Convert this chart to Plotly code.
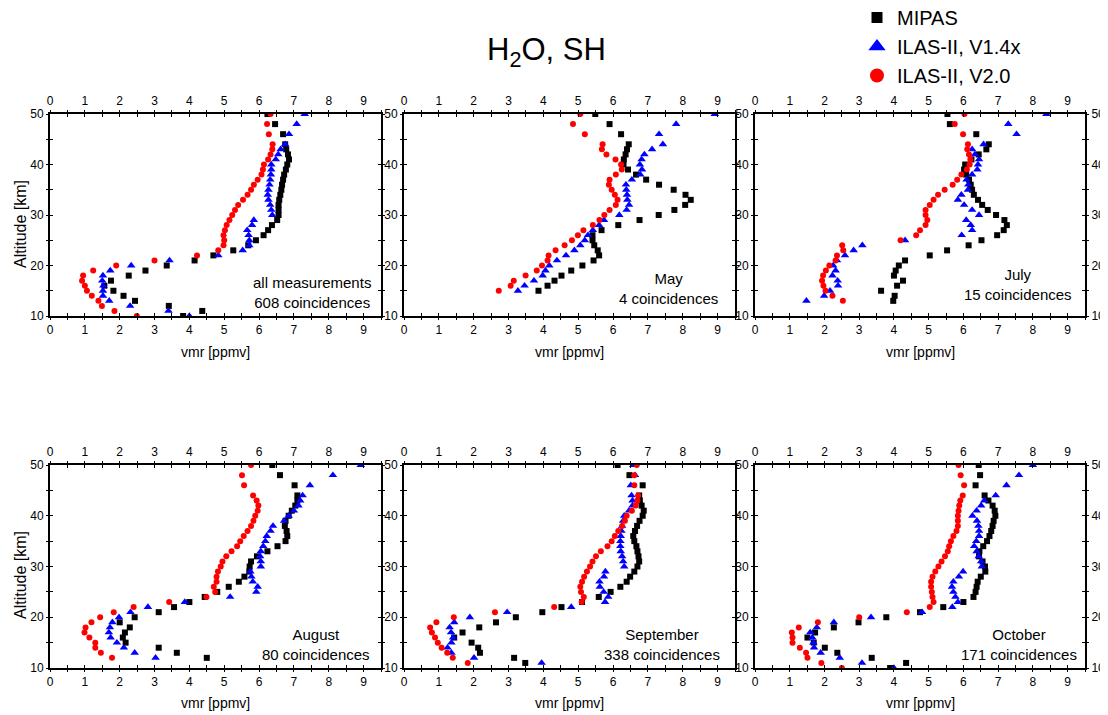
import plotly.graph_objects as go

# ---------------- data ----------------
ALT_P1 = [50, 48, 46, 44, 43, 42, 41, 40, 39, 38, 37, 36, 35, 34, 33, 32, 31, 30, 29, 28, 27, 26, 25,
          24, 23, 22, 21, 20, 19, 18, 17, 16, 15, 14, 13, 12, 11, 10]
ALT_MAY = [50, 48, 46, 44, 43, 42, 41, 40, 39, 38, 37, 36, 35, 34, 33, 32, 31, 30, 29, 28, 27, 26, 25,
           24, 23, 22, 21, 20, 19, 18, 17, 16, 15]
ALT_JUL = [50, 48, 46, 44, 43, 42, 41, 40, 39, 38, 37, 36, 35, 34, 33, 32, 31, 30, 29, 28, 27, 26, 25,
           24, 23, 22, 21, 20, 19, 18, 17, 16, 15, 14, 13]
ALT_AUG = [50, 48, 46, 44, 43, 42, 41, 40, 39, 38, 37, 36, 35, 34, 33, 32, 31, 30, 29, 28, 27, 26, 25,
           24, 23, 22, 21, 20, 19, 18, 17, 16, 15, 14, 13, 12]
ALT_SEP = [50, 48, 46, 44, 43, 42, 41, 40, 39, 38, 37, 36, 35, 34, 33, 32, 31, 30, 29, 28, 27, 26, 25,
           24, 23, 22, 21, 20, 19, 18, 17, 16, 15, 14, 13, 12, 11]
ALT_OCT = [50, 48, 46, 44, 43, 42, 41, 40, 39, 38, 37, 36, 35, 34, 33, 32, 31, 30, 29, 28, 27, 26, 25,
           24, 23, 22, 21, 20, 19, 18, 17, 16, 15, 14, 13, 12, 11, 10]

ALL_MIPAS = [6.24, 6.46, 6.69, 6.75, 6.78, 6.83, 6.86, 6.81, 6.77, 6.72, 6.69, 6.66, 6.64,
             6.61, 6.58, 6.56, 6.56, 6.56, 6.52, 6.37, 6.26, 6.13, 5.91,
             5.69, 5.26, 4.69, 4.15, 3.35, 2.74, 2.26, 1.75, 1.56, 1.82,
             2.11, 2.44, 3.41, 4.37, 3.82]
ALL_V14 = [7.31, 7.08, 6.86, 6.75, 6.62, 6.55, 6.48, 6.35, 6.35, 6.34, 6.32, 6.30, 6.27,
           6.25, 6.27, 6.32, 6.35, 6.38, 5.85, 5.80, 5.66, 5.70, 5.72,
           5.72, 5.53, 4.83, 3.43, 2.33, 1.73, 1.52, 1.50, 1.53, 1.52,
           1.52, 1.70, 2.30, 3.40, 4.00]
ALL_V20 = [6.33, 6.23, 6.28, 6.39, 6.38, 6.33, 6.26, 6.14, 6.11, 6.07, 5.96, 5.85, 5.77,
           5.67, 5.54, 5.40, 5.31, 5.23, 5.15, 5.07, 5.02, 4.98, 5.00,
           4.98, 4.83, 4.22, 3.00, 1.90, 1.24, 0.95, 0.92, 1.00, 1.06,
           1.20, 1.39, 1.49, 1.85, 2.49]

MAY_MIPAS = [5.49, 5.90, 6.23, 6.45, 6.40, 6.36, 6.31, 6.30, 6.43, 6.66, 6.95, 7.32, 7.74,
             8.08, 8.23, 8.07, 7.76, 7.31, 6.76, 6.15, 5.67, 5.41, 5.41,
             5.46, 5.56, 5.60, 5.44, 5.12, 4.80, 4.52, 4.32, 4.12, 3.86]
MAY_V14 = [8.92, 7.81, 7.32, 7.43, 7.12, 6.90, 6.82, 6.77, 6.83, 6.78, 6.54, 6.37, 6.38,
           6.40, 6.41, 6.46, 6.39, 6.18, 5.74, 5.60, 5.42, 5.28, 5.19,
           5.06, 4.89, 4.65, 4.39, 4.17, 4.06, 3.98, 3.73, 3.46, 3.27]
MAY_V20 = [5.06, 4.85, 5.19, 5.70, 5.68, 5.81, 6.07, 6.23, 6.25, 6.08, 5.90, 5.88, 5.96,
           6.05, 6.13, 6.08, 5.90, 5.75, 5.61, 5.42, 5.15, 4.99, 4.82,
           4.61, 4.35, 4.15, 4.12, 3.96, 3.81, 3.49, 3.15, 3.06, 2.72]

JUL_MIPAS = [5.54, 5.61, 6.37, 6.73, 6.66, 6.44, 6.23, 6.05, 6.02, 6.08, 6.16, 6.21, 6.25,
             6.30, 6.42, 6.54, 6.70, 6.94, 7.18, 7.25, 7.16, 6.97, 6.52,
             6.15, 5.53, 5.03, 4.32, 4.14, 4.05, 4.00, 4.26, 4.09, 3.63,
             4.02, 3.98]
JUL_V14 = [8.39, 7.29, 7.53, 6.58, 6.25, 6.33, 6.45, 6.42, 6.40, 6.25, 6.09, 6.14, 6.13,
           5.94, 5.84, 6.02, 6.25, 6.45, 6.08, 6.21, 6.25, 5.95, 4.32,
           3.09, 2.84, 2.59, 2.36, 2.25, 2.32, 2.23, 2.38, 2.39, 2.16,
           1.99, 1.48]
JUL_V20 = [6.03, 5.75, 5.99, 6.13, 6.11, 6.16, 6.20, 6.18, 6.10, 5.94, 5.82, 5.69, 5.46,
           5.27, 5.14, 5.03, 4.91, 4.91, 4.96, 4.91, 4.75, 4.64, 4.19,
           2.51, 2.54, 2.36, 2.32, 2.14, 2.04, 1.96, 1.93, 1.97, 2.03,
           2.23, 2.53]

AUG_MIPAS = [6.38, 6.60, 7.02, 7.10, 7.10, 7.04, 6.94, 6.85, 6.76, 6.74, 6.79, 6.81, 6.76,
             6.53, 6.24, 5.94, 5.77, 5.73, 5.72, 5.58, 5.42, 5.13, 4.80,
             4.44, 4.00, 3.56, 3.12, 2.43, 2.00, 2.29, 2.15, 2.09, 2.17,
             3.12, 3.64, 4.50]
AUG_V14 = [8.92, 8.12, 7.46, 7.25, 7.18, 7.13, 7.00, 6.85, 6.72, 6.40, 6.33, 6.22, 6.18,
           6.12, 6.05, 6.03, 6.05, 6.05, 5.75, 5.78, 5.82, 5.96, 5.92,
           5.17, 3.87, 2.81, 2.31, 1.98, 1.79, 1.72, 1.69, 1.74, 1.92,
           2.12, 2.43, 3.03]
AUG_V20 = [5.77, 5.51, 5.57, 5.83, 5.93, 5.98, 5.96, 5.89, 5.84, 5.77, 5.67, 5.56, 5.46,
           5.37, 5.21, 5.06, 4.95, 4.90, 4.82, 4.78, 4.78, 4.70, 4.74,
           4.49, 3.42, 2.40, 1.83, 1.44, 1.19, 1.02, 0.99, 1.13, 1.30,
           1.30, 1.46, 1.78]

SEP_MIPAS = [6.13, 6.47, 6.85, 6.75, 6.77, 6.82, 6.88, 6.85, 6.76, 6.69, 6.63, 6.58, 6.61,
             6.67, 6.70, 6.73, 6.75, 6.70, 6.61, 6.49, 6.39, 6.21, 5.93,
             5.59, 5.11, 4.52, 3.97, 3.21, 2.64, 2.16, 1.68, 1.44, 1.94,
             2.13, 2.18, 3.16, 3.48]
SEP_V14 = [6.58, 6.63, 6.51, 6.53, 6.56, 6.56, 6.46, 6.32, 6.29, 6.26, 6.24, 6.22, 6.21,
           6.21, 6.22, 6.26, 6.29, 6.32, 5.78, 5.74, 5.61, 5.62, 5.73,
           5.86, 5.77, 4.80, 2.96, 1.89, 1.44, 1.31, 1.35, 1.41, 1.36,
           1.25, 1.36, 2.01, 3.95]
SEP_V20 = [6.68, 6.61, 6.61, 6.72, 6.70, 6.65, 6.54, 6.39, 6.34, 6.26, 6.15, 6.05, 5.96,
           5.84, 5.65, 5.51, 5.41, 5.34, 5.25, 5.17, 5.11, 5.06, 5.08,
           5.16, 5.10, 4.31, 2.61, 1.43, 0.93, 0.75, 0.80, 0.89, 0.97,
           1.08, 1.24, 1.40, 1.83]

OCT_MIPAS = [6.44, 6.48, 6.35, 6.61, 6.72, 6.84, 6.90, 6.92, 6.87, 6.84, 6.80, 6.75, 6.68,
             6.57, 6.46, 6.45, 6.55, 6.62, 6.63, 6.50, 6.41, 6.38, 6.35,
             6.29, 6.00, 5.42, 4.75, 3.78, 2.98, 2.27, 1.73, 1.51, 1.69,
             2.01, 2.37, 3.36, 4.35, 3.89]
OCT_V14 = [8.00, 7.60, 7.24, 6.93, 6.60, 6.51, 6.38, 6.26, 6.39, 6.43, 6.45, 6.45, 6.37,
           6.31, 6.38, 6.44, 6.51, 6.53, 5.99, 5.87, 5.71, 5.67, 5.71,
           5.77, 5.84, 5.68, 4.81, 3.34, 2.27, 1.78, 1.59, 1.65, 1.68,
           1.70, 1.89, 2.44, 3.08, 4.00]
OCT_V20 = [5.86, 5.92, 6.02, 5.98, 5.91, 5.88, 5.86, 5.84, 5.84, 5.84, 5.80, 5.71, 5.64,
           5.59, 5.55, 5.47, 5.37, 5.28, 5.19, 5.11, 5.07, 5.07, 5.09,
           5.11, 5.14, 5.03, 4.37, 3.00, 1.81, 1.26, 1.06, 1.08, 1.08,
           1.29, 1.47, 1.51, 1.91, 2.50]

PANEL_LABELS = [("all measurements", "608 coincidences"),
                ("May", "4 coincidences"),
                ("July", "15 coincidences"),
                ("August", "80 coincidences"),
                ("September", "338 coincidences"),
                ("October", "171 coincidences")]
SERIES_NAMES = ["MIPAS", "ILAS-II, V1.4x", "ILAS-II, V2.0"]
X_TICKS = [0, 1, 2, 3, 4, 5, 6, 7, 8, 9]
Y_TICKS = [10, 20, 30, 40, 50]

PANELS = [
    (ALT_P1, ALT_P1, ALT_P1, ALL_MIPAS, ALL_V14, ALL_V20),
    (ALT_MAY, ALT_MAY, ALT_MAY, MAY_MIPAS, MAY_V14, MAY_V20),
    (ALT_JUL, ALT_JUL, ALT_JUL, JUL_MIPAS, JUL_V14, JUL_V20),
    (ALT_AUG, ALT_AUG, ALT_AUG, AUG_MIPAS, AUG_V14, AUG_V20),
    (ALT_SEP, ALT_SEP, ALT_SEP, SEP_MIPAS, SEP_V14, SEP_V20),
    (ALT_OCT, ALT_OCT, ALT_OCT, OCT_MIPAS, OCT_V14, OCT_V20),
]

# ---------------- style ----------------
# the page has an 8px body margin, so the figure is 8px smaller and positions are shifted
OFF = 8
W, H = 1108 - OFF, 715 - OFF


def fx(px):
    return (px - OFF) / W


def fy(py):
    return 1 - (py - OFF) / H


FONT = "Arial, Liberation Sans, sans-serif"
XDOM = [[fx(50), fx(381)], [fx(404), fx(735)], [fx(755), fx(1085)]]
YDOM = [[fy(316), fy(114)], [fy(668), fy(465)]]
XR = [0, 9.5]
YR = [10, 50]
STYLES = [
    dict(symbol="square", size=6, color="black"),
    dict(symbol="triangle-up", size=7.5, color="#0000ff"),
    dict(symbol="circle", size=6, color="#ff0000"),
]
LEGEND_STYLES = [
    dict(symbol="square", size=11, color="black"),
    dict(symbol="triangle-up", size=15, color="#0000ff"),
    dict(symbol="circle", size=14, color="#ff0000"),
]
TEXT_POS = [(7.53, 14.75), (7.59, 15.5), (7.57, 16.3), (7.64, 14.7), (7.41, 14.7), (7.59, 14.7)]

fig = go.Figure()
layout = {}


def sfx(n):
    return "" if n == 1 else str(n)


tickcommon = dict(tickcolor="black", tickwidth=1, showgrid=False, zeroline=False, automargin=False,
                  tickfont=dict(family=FONT, size=12, color="black"))

annotations = []
for p in range(6):
    r, c = divmod(p, 3)
    n = p + 1
    xa, ya = "x" + sfx(n), "y" + sfx(n)
    # main axes (frame + inside ticks mirrored)
    layout["xaxis" + sfx(n)] = dict(domain=XDOM[c], anchor=ya, range=XR, showline=True, linecolor="black",
                                    linewidth=1.5, mirror="allticks", ticks="inside", ticklen=3,
                                    tickvals=X_TICKS, showticklabels=False,
                                    minor=dict(dtick=0.5, tick0=0, ticks="inside", ticklen=3,
                                               tickcolor="black", tickwidth=1, showgrid=False),
                                    **tickcommon)
    layout["yaxis" + sfx(n)] = dict(domain=YDOM[r], anchor=xa, range=YR, showline=True, linecolor="black",
                                    linewidth=1.5, mirror="allticks", ticks="inside", ticklen=3,
                                    tickvals=Y_TICKS, showticklabels=False,
                                    minor=dict(dtick=5, tick0=0, ticks="inside", ticklen=3,
                                               tickcolor="black", tickwidth=1, showgrid=False),
                                    **tickcommon)
    # overlay axes with outside ticks and labels
    for k, side in ((6, "bottom"), (12, "top")):
        layout["xaxis" + str(k + n)] = dict(overlaying=xa, anchor=ya, side=side, range=XR, showline=False,
                                            ticks="outside", ticklen=3, tickvals=X_TICKS, showticklabels=True,
                                            minor=dict(dtick=0.5, tick0=0, ticks="outside", ticklen=3,
                                                       tickcolor="black", tickwidth=1, showgrid=False),
                                            **tickcommon)
        fig.add_trace(go.Scatter(x=[None], y=[None], xaxis="x" + str(k + n), yaxis=ya,
                                 showlegend=False, hoverinfo="skip"))
    for k, side in ((6, "left"), (12, "right")):
        layout["yaxis" + str(k + n)] = dict(overlaying=ya, anchor=xa, side=side, range=YR, showline=False,
                                            ticks="outside", ticklen=3, tickvals=Y_TICKS,
                                            showticklabels=(side == "left" or c == 2),
                                            minor=dict(dtick=5, tick0=0, ticks="outside", ticklen=3,
                                                       tickcolor="black", tickwidth=1, showgrid=False),
                                            **tickcommon)
        fig.add_trace(go.Scatter(x=[None], y=[None], xaxis=xa, yaxis="y" + str(k + n),
                                 showlegend=False, hoverinfo="skip"))

    # data
    alts = PANELS[p][:3]
    vals = PANELS[p][3:]
    for s in range(3):
        fig.add_trace(go.Scatter(x=vals[s], y=alts[s], mode="markers", xaxis=xa, yaxis=ya,
                                 marker=dict(symbol=STYLES[s]["symbol"], size=STYLES[s]["size"],
                                             color=STYLES[s]["color"], line=dict(width=0)),
                                 name=SERIES_NAMES[s], showlegend=False))

    # panel text
    tx, ty = TEXT_POS[p]
    annotations.append(dict(x=tx, y=ty, xref=xa, yref=ya, text=PANEL_LABELS[p][0] + "<br>" + PANEL_LABELS[p][1],
                            showarrow=False, align="center", xanchor="center", yanchor="middle",
                            font=dict(family=FONT, size=15, color="black")))
    # x-axis title
    annotations.append(dict(x=0.5, y=fy(352) if r == 0 else fy(703), xref=xa + " domain",
                            yref="paper", text="vmr [ppmv]", showarrow=False, xanchor="center",
                            yanchor="middle", font=dict(family=FONT, size=14, color="black")))
    if c == 0:
        annotations.append(dict(x=fx(20), y=fy(224) if r == 0 else fy(575), xref="paper",
                                yref="paper", text="Altitude [km]", textangle=-90, showarrow=False,
                                xanchor="center", yanchor="middle",
                                font=dict(family=FONT, size=16, color="black")))

# legend entries
for s in range(3):
    fig.add_trace(go.Scatter(x=[None], y=[None], mode="markers", name=SERIES_NAMES[s],
                             marker=dict(symbol=LEGEND_STYLES[s]["symbol"], size=LEGEND_STYLES[s]["size"],
                                         color=LEGEND_STYLES[s]["color"], line=dict(width=0)),
                             showlegend=True))

annotations.append(dict(x=fx(546), y=fy(52), xref="paper", yref="paper", text="H<sub>2</sub>O, SH",
                        showarrow=False, xanchor="center", yanchor="middle",
                        font=dict(family=FONT, size=31, color="black")))

fig.update_layout(
    width=W, height=H,
    margin=dict(l=0, r=0, t=0, b=0, autoexpand=False),
    paper_bgcolor="white", plot_bgcolor="white",
    showlegend=True,
    legend=dict(x=fx(857), y=fy(-2), xanchor="left", yanchor="top", bgcolor="rgba(0,0,0,0)",
                font=dict(family=FONT, size=20, color="black"), itemsizing="trace"),
    annotations=annotations,
    **layout,
)

fig.write_html("out.html")
